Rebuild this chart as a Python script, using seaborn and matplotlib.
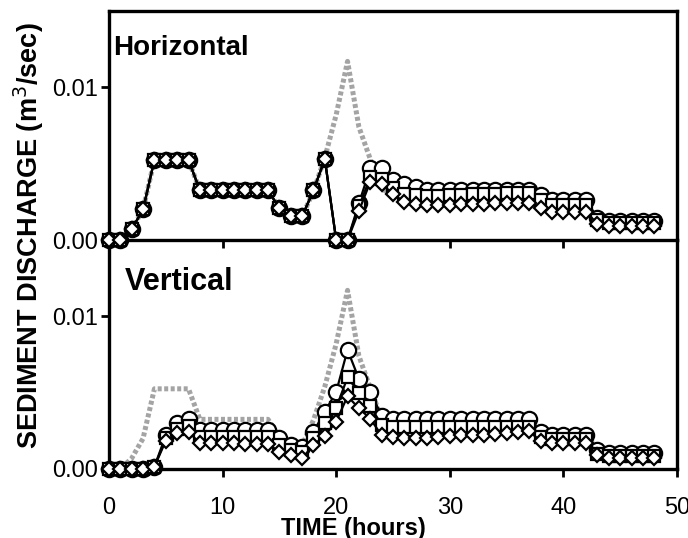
import numpy as np
import pandas as pd
import matplotlib
matplotlib.use("Agg")
import matplotlib.pyplot as plt
import seaborn as sns

sns.set_style("ticks")
plt.rcParams["font.family"] = ["Liberation Sans Narrow", "Liberation Sans", "DejaVu Sans"]
plt.rcParams["axes.edgecolor"] = "black"
plt.rcParams["xtick.color"] = "black"
plt.rcParams["ytick.color"] = "black"
plt.rcParams["text.color"] = "black"

# hours 0..48
hours = list(range(49))

# input (grey stippled line), same in both panels, units 1e-3 m3/s
supply = [0, 0, 0.7, 2.0, 5.25, 5.25, 5.25, 5.25,
          3.25, 3.25, 3.25, 3.25, 3.25, 3.25, 3.25,
          2.08, 1.54, 1.54, 3.2, 5.4, 8.2, 11.7, 7.4, 5.3, 3.3,
          3.1, 3.1, 3.1, 3.1, 3.1, 3.1, 3.1, 3.1, 3.1, 3.1, 3.1, 3.1, 3.1,
          2.7, 2.4, 2.4, 2.4, 2.4, 1.2, 1.05, 1.05, 1.05, 1.05, 1.05]

# Horizontal panel
h_circle = [0, 0, 0.7, 2.0, 5.25, 5.25, 5.25, 5.25,
            3.25, 3.25, 3.25, 3.25, 3.25, 3.25, 3.25,
            2.08, 1.54, 1.54, 3.25, 5.3, 0, 0, 2.4, 4.7, 4.7,
            3.95, 3.7, 3.5, 3.3, 3.3, 3.3, 3.3, 3.3, 3.3, 3.3, 3.3, 3.3, 3.3,
            2.96, 2.6, 2.6, 2.6, 2.6, 1.45, 1.25, 1.25, 1.25, 1.25, 1.25]
h_square = [0, 0, 0.7, 2.0, 5.25, 5.25, 5.25, 5.25,
            3.25, 3.25, 3.25, 3.25, 3.25, 3.25, 3.25,
            2.08, 1.54, 1.54, 3.25, 5.3, 0, 0, 2.2, 4.1, 4.0,
            3.4, 3.0, 2.95, 2.9, 2.9, 2.95, 2.95, 3.0, 3.0, 3.0, 3.05, 3.05, 3.1,
            2.6, 2.3, 2.3, 2.3, 2.3, 1.3, 1.1, 1.1, 1.1, 1.1, 1.1]
h_diamond = [0, 0, 0.7, 2.0, 5.25, 5.25, 5.25, 5.25,
             3.25, 3.25, 3.25, 3.25, 3.25, 3.25, 3.25,
             2.08, 1.54, 1.54, 3.25, 5.3, 0, 0, 1.9, 3.8, 3.7,
             3.0, 2.5, 2.35, 2.3, 2.3, 2.3, 2.35, 2.35, 2.35, 2.4, 2.4, 2.45, 2.45,
             2.1, 1.86, 1.86, 1.86, 1.86, 1.05, 0.9, 0.9, 0.9, 0.9, 0.9]

# Vertical panel
v_circle = [0, 0, 0, 0, 0.15, 2.2, 3.0, 3.3,
            2.55, 2.55, 2.55, 2.55, 2.55, 2.55, 2.55,
            2.0, 1.57, 1.46, 2.44, 3.75, 5.05, 7.8, 5.9, 5.05, 3.5,
            3.3, 3.3, 3.3, 3.3, 3.3, 3.3, 3.3, 3.3, 3.3, 3.3, 3.3, 3.3, 3.3,
            2.44, 2.2, 2.2, 2.2, 2.2, 1.24, 1.03, 1.03, 1.03, 1.03, 1.03]
v_square = [0, 0, 0, 0, 0.15, 2.0, 2.6, 2.8,
            2.1, 2.1, 2.1, 2.1, 2.1, 2.1, 2.1,
            1.6, 1.25, 1.1, 2.0, 3.0, 4.0, 6.0, 5.0, 4.1, 2.9,
            2.76, 2.76, 2.76, 2.76, 2.76, 2.76, 2.76, 2.76, 2.76, 2.76, 2.76, 2.76, 2.76,
            2.1, 1.95, 1.95, 1.95, 1.95, 1.0, 0.85, 0.85, 0.85, 0.85, 0.85]
v_diamond = [0, 0, 0, 0, 0.15, 1.85, 2.37, 2.44,
             1.68, 1.68, 1.68, 1.68, 1.63, 1.63, 1.63,
             1.13, 0.92, 0.7, 1.57, 2.18, 3.1, 4.77, 3.97, 3.3, 2.2,
             2.1, 2.0, 2.05, 2.05, 2.1, 2.15, 2.2, 2.2, 2.25, 2.3, 2.35, 2.4, 2.5,
             1.8, 1.68, 1.68, 1.68, 1.68, 0.92, 0.7, 0.7, 0.7, 0.7, 0.7]

panels = [("Horizontal", h_circle, h_square, h_diamond),
          ("Vertical", v_circle, v_square, v_diamond)]

fig = plt.figure(figsize=(6.88, 5.38), dpi=100)
ax_bot = fig.add_axes([0.1584, 0.1283, 0.8256, 0.4257])
ax_top = fig.add_axes([0.1584, 0.5539, 0.8256, 0.4257])
ax_top.patch.set_alpha(0)
ax_bot.patch.set_alpha(0)
ax_top.set_zorder(2)

x = np.array(hours)
for ax, (name, circ, sq, dia) in zip([ax_top, ax_bot], panels):
    sns.lineplot(x=x, y=np.array(supply) / 1000, ax=ax, color="#a4a4a4", lw=3.6,
                 linestyle=(0, (0.8, 0.5)), zorder=1)
    for vals, mk, ms in [(circ, "o", 11), (sq, "s", 8.5), (dia, "D", 7.5)]:
        sns.lineplot(x=x, y=np.array(vals) / 1000, ax=ax, color="black", lw=1.6,
                     marker=mk, markersize=ms, markerfacecolor="white",
                     markeredgecolor="black", markeredgewidth=1.6, clip_on=False, zorder=3)
    ax.set_xlim(0, 50)
    ax.set_ylim(0, 0.0150)
    ax.set_yticks([0, 0.01])
    ax.set_yticklabels(["0.00", "0.01"])
    ax.set_xticks([0, 10, 20, 30, 40, 50])
    ax.set_xlabel("")
    ax.set_ylabel("")
    for s in ax.spines.values():
        s.set_linewidth(2.4)
        s.set_visible(True)
    ax.tick_params(direction="out", length=6, width=2, labelsize=17, pad=2)

ax_top.text(0.007, 0.895, "Horizontal", transform=ax_top.transAxes, fontsize=20,
            fontweight="bold", ha="left", va="top", family=["Liberation Sans", "DejaVu Sans"])
ax_bot.text(0.028, 0.88, "Vertical", transform=ax_bot.transAxes, fontsize=22,
            fontweight="bold", ha="left", va="top", family=["Liberation Sans", "DejaVu Sans"])

ax_top.tick_params(axis="x", labelbottom=False)
ax_bot.spines["top"].set_visible(False)
ax_bot.tick_params(axis="x", pad=14)

fig.text(0.042, 1 - 236 / 538, "SEDIMENT DISCHARGE (m$^3$/sec)", rotation=90,
         ha="center", va="center", fontsize=19.5, fontweight="bold",
         family=["Liberation Sans", "DejaVu Sans"])
fig.text(0.513, 1 - 529 / 538, "TIME (hours)", ha="center", va="center",
         fontsize=17, fontweight="bold", family=["Liberation Sans", "DejaVu Sans"])

fig.savefig("out.png", dpi=100)
